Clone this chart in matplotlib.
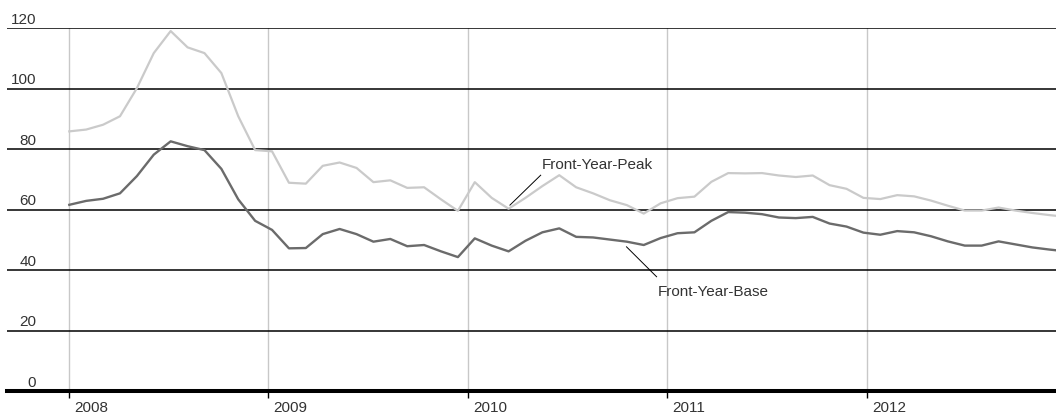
import numpy as np
import matplotlib.pyplot as plt

plt.rcParams['font.family'] = ['Liberation Sans', 'DejaVu Sans']

# monthly front-year prices, Jan 2008 - Dec 2012
peak = [85.9, 86.5, 88.1, 90.9, 100.2, 111.8, 119.1, 113.7, 111.8, 105.2, 90.9, 79.7,
        79.3, 68.9, 68.6, 74.5, 75.6, 73.8, 69.1, 69.7, 67.2, 67.4, 63.4, 59.6,
        69.1, 63.9, 60.3, 63.9, 67.8, 71.4, 67.4, 65.4, 63.1, 61.5, 58.7, 62.1,
        63.8, 64.3, 69.2, 72.1, 72.0, 72.1, 71.3, 70.8, 71.3, 68.1, 66.9, 63.9,
        63.5, 64.8, 64.4, 63.0, 61.3, 59.7, 59.7, 60.7, 59.7, 58.9, 58.2, 57.6]
base = [61.6, 62.9, 63.6, 65.4, 71.1, 78.2, 82.6, 81.0, 79.7, 73.5, 63.4, 56.3,
        53.3, 47.2, 47.3, 51.9, 53.6, 51.9, 49.4, 50.3, 47.9, 48.3, 46.2, 44.3,
        50.5, 48.1, 46.2, 49.7, 52.5, 53.8, 51.0, 50.8, 50.1, 49.4, 48.3, 50.6,
        52.2, 52.5, 56.3, 59.2, 59.0, 58.5, 57.4, 57.2, 57.6, 55.4, 54.4, 52.4,
        51.7, 52.9, 52.5, 51.2, 49.5, 48.1, 48.1, 49.5, 48.5, 47.5, 46.8, 46.2]
months = np.arange(len(peak))

years = ['2008', '2009', '2010', '2011', '2012']
year_pos = [0, 11.78, 23.6, 35.4, 47.2]
y_ticks = [0, 20, 40, 60, 80, 100, 120]

text_col = '#333333'
fs = 11

fig = plt.figure(figsize=(10.56, 4.17), dpi=100)
ax = fig.add_axes([0.0069, 0.0624, 0.9931, 0.8697])

# grid
for v in y_ticks[1:]:
    ax.axhline(v, color='black', lw=1.1, zorder=1)
for x in year_pos:
    ax.axvline(x, color='#c8c8c8', lw=1.0, zorder=0)

ax.plot(months, peak, color='#cacaca', lw=1.6, zorder=3)
ax.plot(months, base, color='#6b6b6b', lw=1.7, zorder=3)

ax.set_xlim(-3.67, 58.4)
ax.set_ylim(0, 120)

for s in ['top', 'right', 'left']:
    ax.spines[s].set_visible(False)
ax.spines['bottom'].set_linewidth(2.9)
ax.spines['bottom'].set_color('black')
ax.spines['bottom'].set_zorder(5)

ax.set_yticks([])
ax.set_xticks(year_pos)
ax.set_xticklabels([])
ax.tick_params(axis='x', direction='out', length=5, width=1, color='black')

# y labels sit above their gridlines
for v in y_ticks:
    ax.annotate(str(v), xy=(0, v), xycoords=('axes fraction', 'data'),
                xytext=(20.8, 3.2), textcoords='offset points',
                ha='right', va='baseline', fontsize=fs, color=text_col,
                annotation_clip=False)

# year labels right of the tick marks
for x, lab in zip(year_pos, years):
    ax.annotate(lab, xy=(x, 0), xycoords=('data', 'axes fraction'),
                xytext=(3.6, -7.3), textcoords='offset points',
                ha='left', va='top', fontsize=fs, color=text_col,
                annotation_clip=False)

# series labels with leader lines
ax.plot([26.08, 27.9], [61.5, 71.4], color='black', lw=0.7, zorder=4)
ax.text(27.95, 74.8, 'Front-Year-Peak', ha='left', va='center',
        fontsize=fs, color=text_col)
ax.plot([32.98, 34.76], [47.7, 37.8], color='black', lw=0.7, zorder=4)
ax.text(34.8, 32.8, 'Front-Year-Base', ha='left', va='center',
        fontsize=fs, color=text_col)

fig.savefig('out.png', dpi=100)
